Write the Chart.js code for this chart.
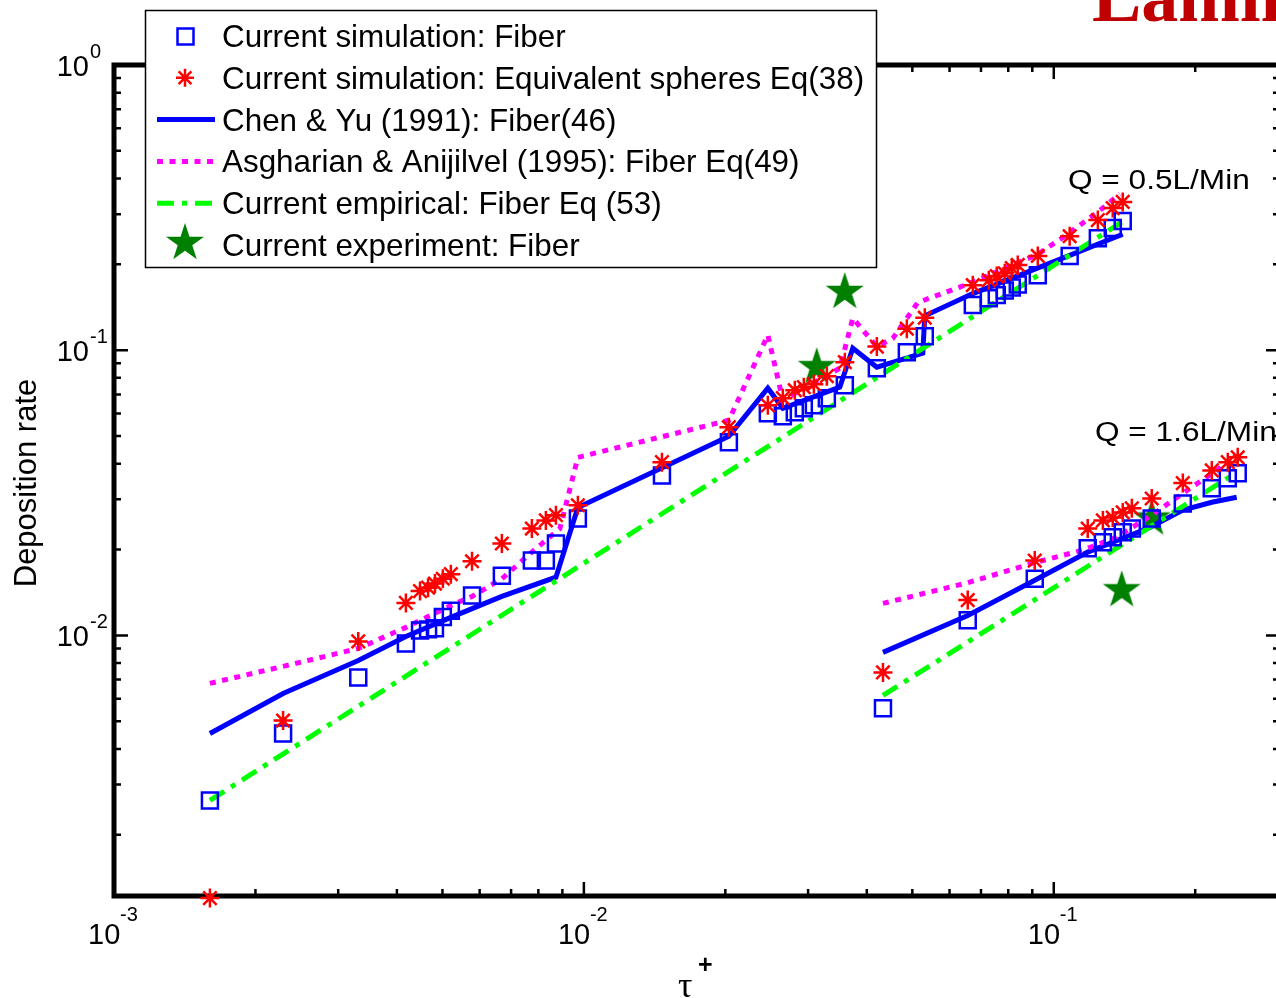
<!DOCTYPE html>
<html lang="en">
<head>
<meta charset="UTF-8">
<title>Deposition rate</title>
<script src="https://cdn.jsdelivr.net/npm/chart.js"></script>
<style>
  html, body {
    margin: 0;
    padding: 0;
    background: #fff;
    overflow: hidden;
  }
  .wrap {
    position: relative;
    width: 1276px;
    height: 998px;
    overflow: hidden;
  }
  #graph {
    position: absolute;
    left: 0;
    top: 0;
  }
</style>
</head>
<body>
<div class="wrap">
  <canvas id="graph" width="1284" height="998"></canvas>
</div>

<script>
// Q = 0.5 L/min : tau+ of the simulated cases and deposition rates
const tau05 = [0.0016, 0.00229, 0.00331, 0.00418, 0.00448, 0.00466, 0.00482, 0.00501, 0.00521, 0.00578,
               0.00669, 0.00775, 0.0083, 0.00872, 0.00971, 0.01466, 0.02035, 0.02463, 0.02651, 0.02811,
               0.02938, 0.03086, 0.03289, 0.03592, 0.04202, 0.04867, 0.05315, 0.06725, 0.07273, 0.07563,
               0.07866, 0.0814, 0.08383, 0.09247, 0.1081, 0.1241, 0.1335, 0.1402];
const fiberSim05 = [0.00264, 0.00453, 0.00712, 0.00937, 0.0104, 0.0105, 0.0106, 0.0116, 0.0122, 0.0138,
                    0.0162, 0.0183, 0.0183, 0.0210, 0.0257, 0.0364, 0.0476, 0.0601, 0.0587, 0.0606,
                    0.0626, 0.0641, 0.0679, 0.0754, 0.0865, 0.0984, 0.112, 0.144, 0.152, 0.156,
                    0.162, 0.166, 0.170, 0.183, 0.214, 0.247, 0.268, 0.284];
const sphereSim05 = [0.00120, 0.00503, 0.00953, 0.0130, 0.0143, 0.0147, 0.0152, 0.0158, 0.0164, 0.0182,
                     0.0210, 0.0237, 0.0253, 0.0264, 0.0286, 0.0405, 0.0537, 0.0641, 0.0679, 0.0724,
                     0.0742, 0.0760, 0.0811, 0.0908, 0.103, 0.119, 0.130, 0.169, 0.176, 0.182,
                     0.186, 0.194, 0.199, 0.214, 0.251, 0.286, 0.315, 0.331];

// Chen & Yu (1991), Q = 0.5
const tauChen05 = [0.0016, 0.00229, 0.00331, 0.00418, 0.00521, 0.00669, 0.00872, 0.00971, 0.02035, 0.02463,
                   0.02651, 0.03505, 0.03735, 0.04202, 0.05263, 0.05315, 0.06725, 0.1081, 0.1402];
const chen05 = [0.00453, 0.00626, 0.00817, 0.00992, 0.01157, 0.0137, 0.0160, 0.0281, 0.0499, 0.0736,
                0.0626, 0.0742, 0.1016, 0.0872, 0.0976, 0.132, 0.158, 0.215, 0.255];

// Asgharian & Anjilvel (1995), Q = 0.5
const tauAsg05 = [0.0016, 0.00229, 0.00331, 0.00418, 0.00521, 0.00578, 0.00669, 0.00775, 0.00889, 0.00971,
                  0.02035, 0.02463, 0.02651, 0.03505, 0.03735, 0.04202, 0.04544, 0.05135, 0.0653, 0.09247,
                  0.104, 0.1241, 0.1382];
const asg05 = [0.00679, 0.00779, 0.0090, 0.01067, 0.01274, 0.0137, 0.0158, 0.0196, 0.0237, 0.0421,
               0.0568, 0.113, 0.0668, 0.0865, 0.1295, 0.103, 0.110, 0.147, 0.170, 0.217,
               0.247, 0.305, 0.353];

// empirical fit Eq (53), Q = 0.5
const tauEmp05 = [0.0016, 0.1395];
const emp05 = [0.00264, 0.281];

// Q = 1.6 L/min
const tau16 = [0.0433, 0.0656, 0.0911, 0.1181, 0.1272, 0.1335, 0.1402, 0.1466, 0.1616, 0.1882, 0.2169, 0.2346, 0.2463];
const fiberSim16 = [0.00555, 0.0113, 0.0158, 0.0202, 0.0212, 0.0221, 0.0230, 0.0237, 0.0257, 0.0290, 0.0328, 0.0356, 0.0370];
const sphereSim16 = [0.00742, 0.0133, 0.0183, 0.0237, 0.0253, 0.0259, 0.0270, 0.0279, 0.0302, 0.0342, 0.0379, 0.0405, 0.0421];

const tauChen16 = [0.0433, 0.0656, 0.0911, 0.1181, 0.1601, 0.1882, 0.2169, 0.2451];
const chen16 = [0.00872, 0.01175, 0.0156, 0.0196, 0.0239, 0.0275, 0.0293, 0.0305];

const tauAsg16 = [0.0433, 0.0656, 0.0911, 0.1153, 0.1361, 0.1616, 0.1882, 0.2334, 0.2451];
const asg16 = [0.01295, 0.0153, 0.0180, 0.0199, 0.0221, 0.0264, 0.0315, 0.0401, 0.0418];

const tauEmp16 = [0.0433, 0.2451];
const emp16 = [0.00616, 0.0373];

// experiments (both flow rates)
const tauExp = [0.0313, 0.0359, 0.1395, 0.1616];
const depExp = [0.0872, 0.160, 0.0144, 0.0257];

// axes
const xTickExps = [-3, -2, -1];
const yTickExps = [0, -1, -2];
const X_MIN = 0.001, X_MAX = 0.303;
const Y_MIN = 0.00122, Y_MAX = 1;

const legendLabels = [
  'Current simulation: Fiber',
  'Current simulation: Equivalent spheres Eq(38)',
  'Chen & Yu (1991): Fiber(46)',
  'Asgharian & Anijilvel (1995): Fiber Eq(49)',
  'Current empirical: Fiber Eq (53)',
  'Current experiment: Fiber'
];
const flowLabels = ['Q = 0.5L/Min', 'Q = 1.6L/Min'];

const BLUE = '#0000ff', RED = '#ff0000', MAGENTA = '#ff00ff', LIME = '#00ff00', DKGREEN = '#008000';
const FONT = '"Liberation Sans", Arial, Helvetica, sans-serif';

const pts = (xs, ys) => xs.map((v, i) => ({ x: v, y: ys[i] }));

// filled five-pointed star used as marker for the experiments
function pentagram(r, color) {
  const c = document.createElement('canvas');
  c.width = c.height = Math.ceil(r * 2 + 2);
  const g = c.getContext('2d');
  const cx = c.width / 2, cy = c.height / 2;
  g.beginPath();
  for (let i = 0; i < 10; i++) {
    const rr = i % 2 ? r * 0.382 : r;
    const a = -Math.PI / 2 + i * Math.PI / 5;
    g.lineTo(cx + rr * Math.cos(a), cy + rr * Math.sin(a));
  }
  g.closePath();
  g.fillStyle = color;
  g.fill();
  return c;
}
const starImg = pentagram(20, DKGREEN);

function logTicks(min, max) {
  const out = [];
  for (let e = -3; e <= 0; e++) {
    for (let m = 1; m <= 9; m++) {
      const v = m * Math.pow(10, e);
      if (v >= min * 0.999 && v <= max * 1.001) out.push({ v: v, major: m === 1 });
    }
  }
  return out;
}

function drawAsterisk(ctx, x, y, r) {
  ctx.beginPath();
  for (let k = 0; k < 4; k++) {
    const a = k * Math.PI / 4;
    ctx.moveTo(x - r * Math.cos(a), y - r * Math.sin(a));
    ctx.lineTo(x + r * Math.cos(a), y + r * Math.sin(a));
  }
  ctx.stroke();
}

// box, inward ticks and 10^n labels in the old matlab look
const matlabFrame = {
  id: 'matlabFrame',
  beforeDatasetsDraw(chart) {
    const { ctx, chartArea: a, scales: { x, y } } = chart;
    ctx.save();
    ctx.strokeStyle = '#000';
    ctx.lineWidth = 2.5;
    ctx.beginPath();
    logTicks(x.min, x.max).forEach(t => {
      const px = x.getPixelForValue(t.v);
      const len = t.major ? 14 : 7;
      ctx.moveTo(px, a.bottom); ctx.lineTo(px, a.bottom - len);
      ctx.moveTo(px, a.top); ctx.lineTo(px, a.top + len);
    });
    logTicks(y.min, y.max).forEach(t => {
      const py = y.getPixelForValue(t.v);
      const len = t.major ? 14 : 7;
      ctx.moveTo(a.left, py); ctx.lineTo(a.left + len, py);
      ctx.moveTo(a.right, py); ctx.lineTo(a.right - len, py);
    });
    ctx.stroke();
    ctx.lineWidth = 5;
    ctx.strokeRect(a.left, a.top, a.right - a.left, a.bottom - a.top);

    ctx.fillStyle = '#000';
    ctx.textBaseline = 'alphabetic';
    yTickExps.forEach(e => {
      const py = y.getPixelForValue(Math.pow(10, e));
      ctx.font = '29px ' + FONT;
      ctx.textAlign = 'right';
      ctx.fillText('10', a.left - 25, py + 11);
      ctx.font = '20px ' + FONT;
      ctx.textAlign = 'left';
      ctx.fillText(String(e), a.left - 24, py - 7);
    });
    xTickExps.forEach(e => {
      const px = x.getPixelForValue(Math.pow(10, e));
      ctx.font = '29px ' + FONT;
      ctx.textAlign = 'left';
      ctx.fillText('10', px - 26, a.bottom + 48);
      ctx.font = '20px ' + FONT;
      ctx.fillText(String(e), px + 6, a.bottom + 25);
    });

    // axis titles
    ctx.font = '36px "Liberation Serif", "DejaVu Serif", serif';
    ctx.fillText('\u03c4', 678, 997);
    ctx.font = 'bold 25px ' + FONT;
    ctx.fillText('+', 698, 973);

    ctx.save();
    ctx.translate(36, 483);
    ctx.rotate(-Math.PI / 2);
    ctx.textAlign = 'center';
    ctx.font = '31px ' + FONT;
    ctx.fillText('Deposition rate', 0, 0);
    ctx.restore();
    ctx.restore();
  },
  afterDatasetsDraw(chart) {
    const ctx = chart.ctx;
    ctx.save();

    // legend
    ctx.fillStyle = '#fff';
    ctx.fillRect(145, 10, 732, 258);
    ctx.strokeStyle = '#000';
    ctx.lineWidth = 1.5;
    ctx.strokeRect(145.5, 10.5, 731, 257);

    legendLabels.forEach((txt, i) => {
      const cy = 36 + i * 41.8;
      ctx.setLineDash([]);
      if (i === 0) {
        ctx.strokeStyle = BLUE; ctx.lineWidth = 2.5;
        ctx.strokeRect(177.5, cy - 7.5, 16, 16);
      } else if (i === 1) {
        ctx.strokeStyle = RED; ctx.lineWidth = 2.5;
        drawAsterisk(ctx, 185, cy, 9);
      } else if (i === 5) {
        ctx.drawImage(starImg, 185 - starImg.width / 2, cy - 2 - starImg.height / 2);
      } else {
        ctx.lineWidth = 5;
        ctx.strokeStyle = i === 2 ? BLUE : (i === 3 ? MAGENTA : LIME);
        if (i === 3) ctx.setLineDash([6, 6.5]);
        if (i === 4) ctx.setLineDash([17, 8, 5, 8]);
        ctx.beginPath();
        ctx.moveTo(157, cy);
        ctx.lineTo(215, cy);
        ctx.stroke();
      }
      ctx.setLineDash([]);
      ctx.fillStyle = '#000';
      ctx.font = '31.4px ' + FONT;
      ctx.textAlign = 'left';
      ctx.textBaseline = 'alphabetic';
      ctx.fillText(txt, 222, cy + 11);
    });

    // flow-rate annotations
    ctx.font = '27px ' + FONT;
    [[1068, 189], [1095, 441]].forEach((p, i) => {
      ctx.save();
      ctx.translate(p[0], p[1]);
      ctx.scale(1.17, 1);
      ctx.fillText(flowLabels[i], 0, 0);
      ctx.restore();
    });

    // slide heading running off the top edge
    ctx.fillStyle = '#c00000';
    ctx.font = 'bold 74px "Liberation Serif", "Times New Roman", serif';
    ctx.fillText('Laminar', 1092, 21);
    ctx.restore();
  }
};

const markers = (label, data, extra) => Object.assign({
  label: label, data: data, showLine: false, clip: false,
  pointBackgroundColor: 'rgba(0,0,0,0)', borderWidth: 2.5
}, extra);

const curve = (label, data, color, dash, order) => ({
  label: label, data: data, showLine: true, pointRadius: 0,
  borderColor: color, borderWidth: 5, borderDash: dash, tension: 0, order: order
});

new Chart(document.getElementById('graph'), {
  type: 'scatter',
  data: {
    datasets: [
      markers(legendLabels[1], pts(tau05, sphereSim05).concat(pts(tau16, sphereSim16)),
        { pointStyle: 'star', pointRadius: 9.5, borderColor: RED, pointBorderColor: RED, order: 1 }),
      markers(legendLabels[0], pts(tau05, fiberSim05).concat(pts(tau16, fiberSim16)),
        { pointStyle: 'rect', pointRadius: 11.3, borderColor: BLUE, pointBorderColor: BLUE, order: 2 }),
      curve(legendLabels[4], pts(tauEmp05, emp05), LIME, [17, 8, 5, 8], 3),
      curve(legendLabels[4], pts(tauEmp16, emp16), LIME, [17, 8, 5, 8], 3),
      curve(legendLabels[3], pts(tauAsg05, asg05), MAGENTA, [6, 6.5], 4),
      curve(legendLabels[3], pts(tauAsg16, asg16), MAGENTA, [6, 6.5], 4),
      curve(legendLabels[2], pts(tauChen05, chen05), BLUE, [], 5),
      curve(legendLabels[2], pts(tauChen16, chen16), BLUE, [], 5),
      markers(legendLabels[5], pts(tauExp, depExp),
        { pointStyle: starImg, pointRadius: 20, borderWidth: 0, order: 6 })
    ]
  },
  options: {
    responsive: false,
    animation: false,
    events: [],
    layout: { autoPadding: false, padding: { left: 114, top: 65, right: 4, bottom: 102 } },
    plugins: {
      legend: { display: false },
      tooltip: { enabled: false }
    },
    scales: {
      x: { type: 'logarithmic', display: false, bounds: 'data', min: X_MIN, max: X_MAX },
      y: { type: 'logarithmic', display: false, bounds: 'data', min: Y_MIN, max: Y_MAX }
    }
  },
  plugins: [matlabFrame]
});
</script>
</body>
</html>
